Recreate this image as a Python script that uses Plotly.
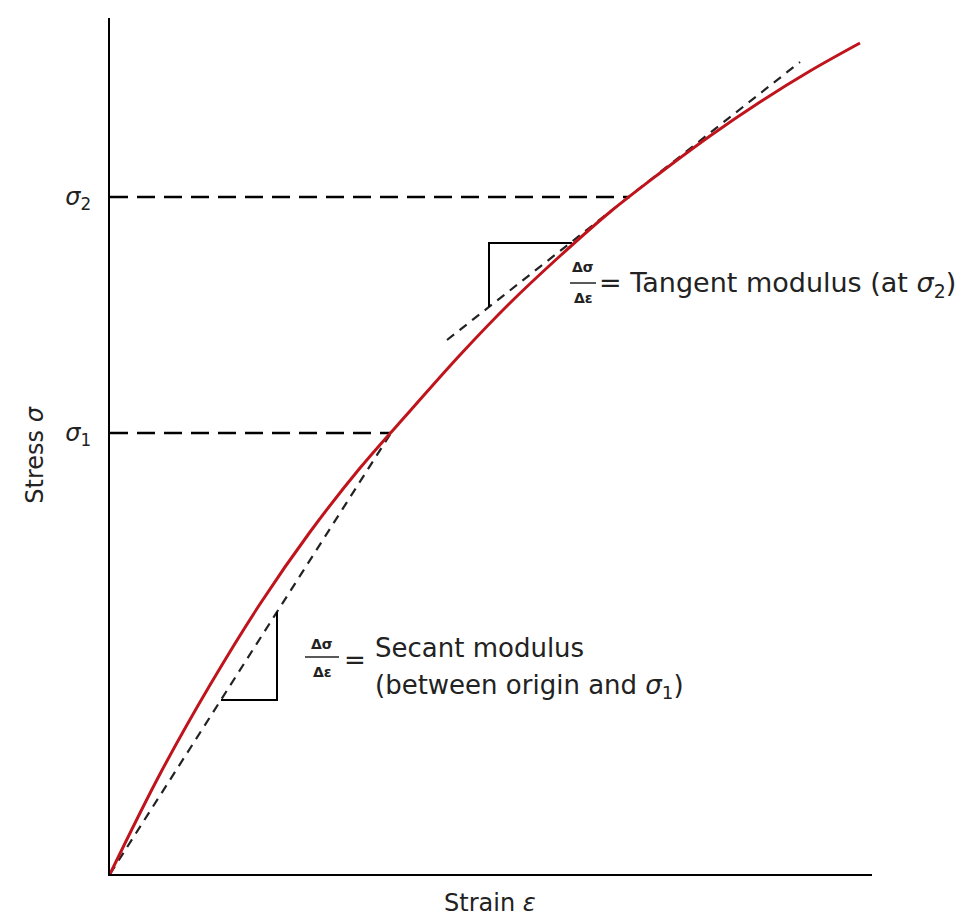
import plotly.graph_objects as go

# ---- data (arbitrary units) ----
strain_curve = [0.0, 0.5, 1.0, 1.5, 2.0, 2.5, 3.0, 3.5, 4.0, 4.5, 5.0, 5.5, 6.0, 6.5, 7.0, 7.5]
stress_curve = [0.0, 1.00, 1.89, 2.70, 3.42, 4.06, 4.63, 5.19, 5.71, 6.18, 6.62, 7.01, 7.38, 7.72, 8.03, 8.31]

sigma_labels = ["<i>σ</i><sub>1</sub>", "<i>σ</i><sub>2</sub>"]
sigma_stress = [4.41, 6.77]
sigma_strain = [2.81, 5.20]

secant_x = [0.0, 2.81]
secant_y = [0.0, 4.41]

tangent_x = [3.37, 6.90]
tangent_y = [5.34, 8.12]

secant_tri_x = [1.11, 1.67, 1.67]
secant_tri_y = [1.74, 1.74, 2.62]

tangent_tri_x = [3.79, 3.79, 4.62]
tangent_tri_y = [5.67, 6.31, 6.31]

X_RANGE = [0, 7.62]
Y_RANGE = [0, 8.56]

FONT = "DejaVu Sans"
RED = "#c0141c"

fig = go.Figure()

# dashed guide lines to the sigma levels
for xs, ys in zip(sigma_strain, sigma_stress):
    fig.add_trace(go.Scatter(x=[0, xs], y=[ys, ys], mode="lines",
                             line=dict(color="black", width=2.5, dash="18px,9px"),
                             hoverinfo="skip", showlegend=False))

# secant and tangent lines
fig.add_trace(go.Scatter(x=secant_x, y=secant_y, mode="lines",
                         line=dict(color="#222", width=2.2, dash="9px,7px"),
                         hoverinfo="skip", showlegend=False))
fig.add_trace(go.Scatter(x=tangent_x, y=tangent_y, mode="lines",
                         line=dict(color="#222", width=2.2, dash="9px,7px"),
                         hoverinfo="skip", showlegend=False))

# slope triangles
fig.add_trace(go.Scatter(x=secant_tri_x, y=secant_tri_y, mode="lines",
                         line=dict(color="black", width=2),
                         hoverinfo="skip", showlegend=False))
fig.add_trace(go.Scatter(x=tangent_tri_x, y=tangent_tri_y, mode="lines",
                         line=dict(color="black", width=2),
                         hoverinfo="skip", showlegend=False))

# stress-strain curve
fig.add_trace(go.Scatter(x=strain_curve, y=stress_curve, mode="lines",
                         line=dict(color=RED, width=3, shape="spline"),
                         hoverinfo="skip", showlegend=False))

annotations = []
shapes = []


def fraction(cx, y_top, y_bar, y_bot, half):
    annotations.append(dict(x=cx, y=y_top, text="<b>Δσ</b>", showarrow=False,
                            font=dict(family=FONT, size=14, color="#222"),
                            xanchor="center", yanchor="middle"))
    annotations.append(dict(x=cx, y=y_bot, text="<b>Δε</b>", showarrow=False,
                            font=dict(family=FONT, size=14, color="#222"),
                            xanchor="center", yanchor="middle"))
    shapes.append(dict(type="line", x0=cx - half, x1=cx + half, y0=y_bar, y1=y_bar,
                       line=dict(color="#222", width=1.5)))


# tangent label
fraction(4.73, 6.07, 5.91, 5.76, 0.13)
annotations.append(dict(x=4.87, y=5.90, xanchor="left", yanchor="middle", showarrow=False,
                        text="= Tangent modulus (at <i>σ</i><sub>2</sub>)",
                        font=dict(family=FONT, size=27, color="#222")))

# secant label
fraction(2.12, 2.30, 2.17, 2.02, 0.17)
annotations.append(dict(x=2.45, y=2.14, xanchor="center", yanchor="middle", showarrow=False,
                        text="=", font=dict(family=FONT, size=26, color="#222")))
annotations.append(dict(x=2.63, y=2.26, xanchor="left", yanchor="middle", showarrow=False,
                        text="Secant modulus",
                        font=dict(family=FONT, size=26, color="#222")))
annotations.append(dict(x=2.63, y=1.88, xanchor="left", yanchor="middle", showarrow=False,
                        text="(between origin and <i>σ</i><sub>1</sub>)",
                        font=dict(family=FONT, size=26, color="#222")))

# axis titles
annotations.append(dict(xref="paper", yref="paper", x=-0.098, y=0.489, textangle=-90,
                        xanchor="center", yanchor="middle", showarrow=False,
                        text="Stress <i>σ</i>", font=dict(family=FONT, size=24, color="#222")))
annotations.append(dict(xref="paper", yref="paper", x=0.499, y=-0.034,
                        xanchor="center", yanchor="middle", showarrow=False,
                        text="Strain <i>ε</i>", font=dict(family=FONT, size=24, color="#222")))

fig.update_layout(
    width=960, height=909,
    margin=dict(l=102, r=96, t=10, b=43),
    paper_bgcolor="white", plot_bgcolor="white",
    annotations=annotations, shapes=shapes,
    xaxis=dict(range=X_RANGE, showgrid=False, zeroline=False, showticklabels=False,
               ticks="", showline=True, linecolor="black", linewidth=2, fixedrange=True),
    yaxis=dict(range=Y_RANGE, showgrid=False, zeroline=False, ticks="",
               tickvals=sigma_stress, ticktext=sigma_labels, ticklabelstandoff=12,
               tickfont=dict(family=FONT, size=24, color="#222"),
               showline=True, linecolor="black", linewidth=2, fixedrange=True),
)

fig.write_html("out.html")
